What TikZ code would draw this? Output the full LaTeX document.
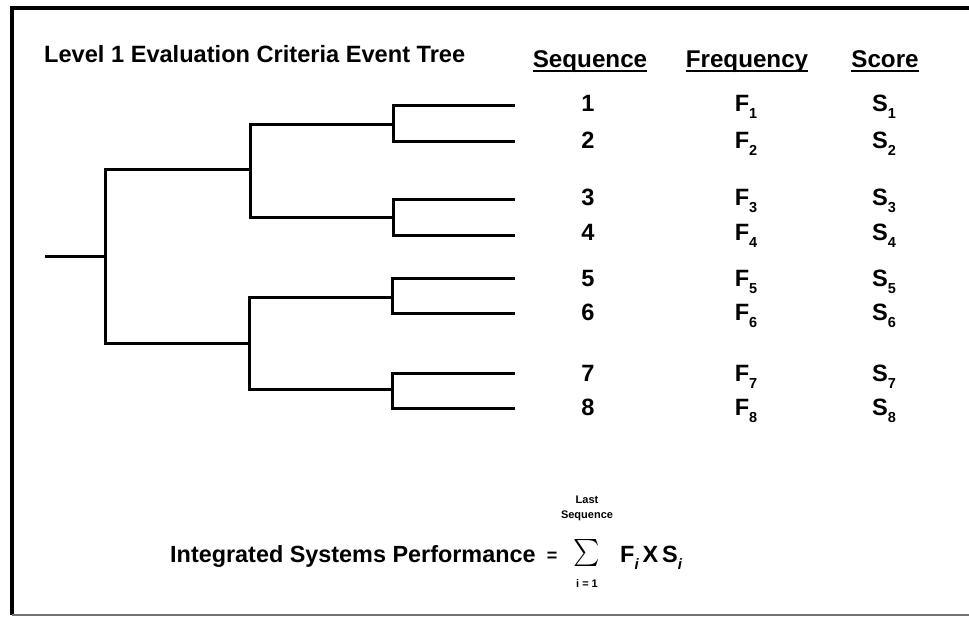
\documentclass[tikz,border=0pt]{standalone}
\usepackage{fontspec}
\setmainfont{Liberation Sans}
\newcommand\sbs[1]{\raisebox{-0.3em}{\fontsize{14.5}{14.5}\selectfont #1}}
\newcommand\sbsi[1]{\raisebox{-0.3em}{\fontsize{15}{15}\selectfont\itshape #1}}
\tikzset{
  tree/.style={line width=3pt, line cap=rect, line join=miter},
  frame/.style={line width=3.5pt},
  lowframe/.style={line width=1.5pt, black!55},
  lbl/.style={inner sep=0pt, font=\fontsize{23.6}{26}\selectfont\bfseries},
  hdr/.style={inner sep=0pt, font=\fontsize{24.2}{26}\selectfont\bfseries},
  tiny/.style={inner sep=0pt, font=\fontsize{11}{15}\selectfont\bfseries},
  uline/.style={line width=2pt},
}
\begin{document}
\begin{tikzpicture}[x=1pt,y=-1pt]
\useasboundingbox (0,0) rectangle (969,618);
% frame
\coordinate (ftr) at (969,8);
\coordinate (ftl) at (12,8);
\coordinate (fbl) at (12,615);
\coordinate (fbr) at (969,615);
\draw[frame] (ftr) -- (ftl) -- (fbl);
\draw[lowframe] (fbl) -- (fbr);
% title
\node[lbl, anchor=base west] (title) at (44,63) {Level 1 Evaluation Criteria Event Tree};
% headers
\node[hdr, anchor=base] (hseq) at (590,67) {Sequence};
\node[hdr, anchor=base] (hfrq) at (747,67) {Frequency};
\node[hdr, anchor=base] (hscr) at (885,67) {Score};
\foreach \h in {hseq,hfrq,hscr}
  \draw[uline] ([yshift=-4pt]\h.base west) -- ([yshift=-4pt]\h.base east);
% tree coordinates
\coordinate (root) at (46,256);
\coordinate (n0) at (105,256);
\coordinate (n0t) at (105,169);
\coordinate (n0b) at (105,343);
\coordinate (n1) at (250,169);
\coordinate (n1t) at (250,124);
\coordinate (n1b) at (250,217);
\coordinate (n2) at (249,343);
\coordinate (n2t) at (249,297);
\coordinate (n2b) at (249,389);
\coordinate (m1) at (393,124);
\coordinate (m1t) at (393,105);
\coordinate (m1b) at (393,141);
\coordinate (m2) at (393,217);
\coordinate (m2t) at (393,199);
\coordinate (m2b) at (393,235);
\coordinate (m3) at (392,297);
\coordinate (m3t) at (392,278);
\coordinate (m3b) at (392,313);
\coordinate (m4) at (392,389);
\coordinate (m4t) at (392,373);
\coordinate (m4b) at (392,408);
\coordinate (l1) at (513,105);
\coordinate (l2) at (513,141);
\coordinate (l3) at (513,199);
\coordinate (l4) at (513,235);
\coordinate (l5) at (513,278);
\coordinate (l6) at (513,313);
\coordinate (l7) at (513,373);
\coordinate (l8) at (513,408);
% tree
\draw[tree] (root) -- (n0);
\draw[tree] (n1) -- (n0t) -- (n0b) -- (n2);
\draw[tree] (m1) -- (n1t) -- (n1b) -- (m2);
\draw[tree] (m3) -- (n2t) -- (n2b) -- (m4);
\draw[tree] (l1) -- (m1t) -- (m1b) -- (l2);
\draw[tree] (l3) -- (m2t) -- (m2b) -- (l4);
\draw[tree] (l5) -- (m3t) -- (m3b) -- (l6);
\draw[tree] (l7) -- (m4t) -- (m4b) -- (l8);
% rows
\foreach \k/\y in {1/111, 2/148, 3/205, 4/240, 5/286, 6/320, 7/381, 8/415} {
  \node[lbl, anchor=base] (seq\k) at (588,\y) {\k};
  \node[lbl, anchor=base] (frq\k) at (746,\y) {F\sbs{\k}};
  \node[lbl, anchor=base] (scr\k) at (884,\y) {S\sbs{\k}};
}
% formula
\node[lbl, anchor=base west, font=\fontsize{23.4}{26}\selectfont\bfseries] (isp) at (170,562) {Integrated Systems Performance};
\node[inner sep=0pt, anchor=base, font=\fontsize{18}{18}\selectfont\bfseries] (eq) at (552,561) {=};
\node[inner sep=0pt] (sum) at (587,560) {\smash{\scalebox{2.5}[2.7]{$\sum$}}};
\node[tiny, align=center, anchor=base] (upper) at (587,518) {Last\\Sequence};
\node[tiny] (ione) at (587,584) {i = 1};
\node[inner sep=0pt, anchor=base west, font=\fontsize{23.5}{26}\selectfont\bfseries] (fxs) at (620,562) {F\sbsi{i}\,X\,S\sbsi{i}};
\end{tikzpicture}
\end{document}
